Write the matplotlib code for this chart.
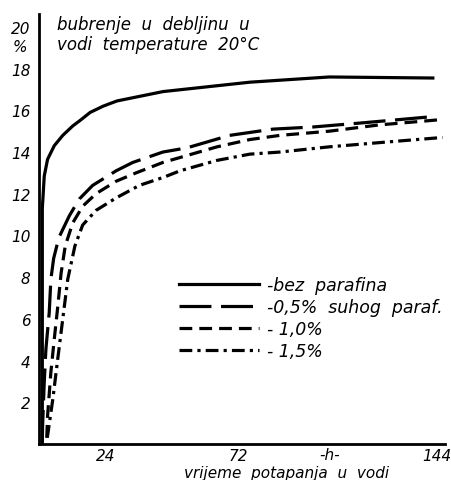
import matplotlib
matplotlib.use("Agg")
import matplotlib.pyplot as plt

# bubrenje u debljinu (%), citano s krivulja
sati_bez = [1.2, 1.2, 1.9, 3.1, 5.5, 8.6, 12.2, 15.2, 18.5, 23.2, 28.2, 44.9, 76.3, 105, 142.5]
bubr_bez = [0.0, 11.3, 12.85, 13.65, 14.3, 14.8, 15.25, 15.55, 15.9, 16.2, 16.45, 16.9, 17.35, 17.6, 17.55]

sati_05 = [1.2, 1.3, 1.9, 2.5, 3.7, 4.3, 5.3, 7.2, 11.0, 14.6, 19.4, 27.9, 33.9, 44.8,
           53.5, 69, 84.7, 99, 117, 142.5]
bubr_05 = [0.1, 0.86, 2.97, 4.55, 6.3, 7.9, 8.9, 9.9, 10.95, 11.75, 12.4, 13.1, 13.5, 14.0,
           14.2, 14.8, 15.1, 15.2, 15.4, 15.7]

sati_10 = [2.8, 3.1, 4.3, 5.5, 6.8, 8.0, 9.5, 12.2, 15.8, 20.6, 27.9, 35.1, 44.8, 64.4,
           76.3, 87.2, 105, 123, 145]
bubr_10 = [0.3, 1.35, 3.45, 5.0, 6.6, 8.2, 9.5, 10.6, 11.4, 12.0, 12.6, 13.0, 13.5, 14.25,
           14.6, 14.8, 15.0, 15.3, 15.55]

sati_15 = [3.0, 5.0, 6.8, 8.6, 10.4, 13.0, 15.8, 20.6, 27.9, 36.3, 45.3, 51, 64.4, 76.3,
           87.2, 105, 123, 146]
bubr_15 = [0.3, 2.15, 4.1, 6.0, 7.9, 9.5, 10.5, 11.2, 11.8, 12.4, 12.8, 13.1, 13.6, 13.9,
           14.0, 14.25, 14.45, 14.7]

oznake = ["-bez  parafina", "-0,5%  suhog  paraf.", "- 1,0%", "- 1,5%"]
x_ticks = [24, 72, 144]
y_ticks = [2, 4, 6, 8, 10, 12, 14, 16, 18, 20]

font = dict(family="DejaVu Sans", style="italic")

fig = plt.figure(figsize=(4.52, 4.81), dpi=100)
ax = fig.add_axes([39 / 452, 36 / 481, 406 / 452, 430 / 481])

lw = 2.3
ax.plot(sati_bez, bubr_bez, color="black", lw=lw, label=oznake[0])
ax.plot(sati_05, bubr_05, color="black", lw=lw, dashes=(10, 3), label=oznake[1])
ax.plot(sati_10, bubr_10, color="black", lw=lw, dashes=(4, 2.2), label=oznake[2])
ax.plot(sati_15, bubr_15, color="black", lw=lw, dashes=(4, 1.6, 1, 1.6), label=oznake[3])

ax.set_xlim(0, 146.9)
ax.set_ylim(0, 20.62)

for s in ["top", "right"]:
    ax.spines[s].set_visible(False)
ax.spines["left"].set_linewidth(2)
ax.spines["bottom"].set_linewidth(2)

ax.set_xticks(x_ticks)
ax.set_xticklabels([str(t) for t in x_ticks], fontsize=11, **font)
ax.set_yticks(y_ticks)
ax.set_yticklabels([str(t) for t in y_ticks], fontsize=11, **font)
ax.tick_params(length=0, pad=6)
ax.tick_params(axis="x", pad=3)

# jedinica na osi y, ispod 20
ax.text(-6.9, 19.05, "%", fontsize=11, ha="center", va="center", clip_on=False, **font)

ax.text(6.5, 20.15, "bubrenje  u  debljinu  u", fontsize=12, va="center", **font)
ax.text(6.5, 19.2, "vodi  temperature  20°C", fontsize=12, va="center", **font)

ax.text(105, -0.5, "-h-", fontsize=11, ha="center", va="center", clip_on=False, **font)
ax.text(89.7, -1.35, "vrijeme  potapanja  u  vodi", fontsize=11, ha="center",
        va="center", clip_on=False, **font)

leg = ax.legend(loc="upper left", bbox_to_anchor=(0.323, 0.41), frameon=False,
                borderpad=0, handlelength=4.6, handletextpad=0.5, labelspacing=0.22,
                prop=dict(family="DejaVu Sans", style="italic", size=12.5))

fig.savefig("out.png", dpi=100)
